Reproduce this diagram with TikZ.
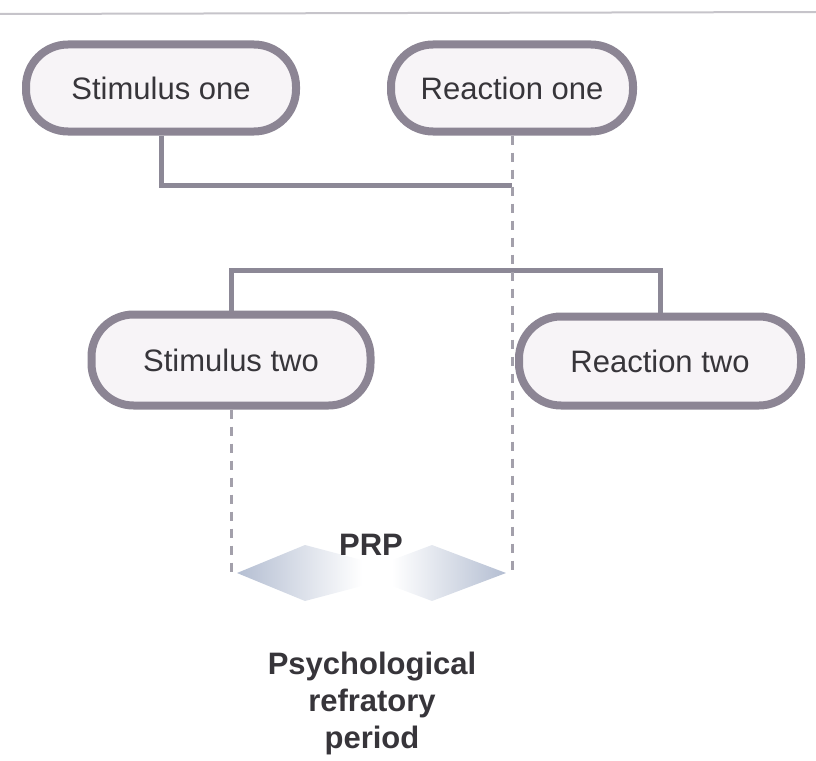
\documentclass[tikz,border=0pt]{standalone}
\usepackage{fontspec}
\setmainfont{Liberation Sans}
\usetikzlibrary{calc, positioning}

\definecolor{pillgray}{RGB}{140,133,148}
\definecolor{pillfill}{RGB}{247,244,247}
\definecolor{linegray}{RGB}{140,136,150}
\definecolor{textgray}{RGB}{55,53,58}
\definecolor{arrowblue}{RGB}{180,190,210}

\tikzset{
    pill/.style={draw=pillgray, line width=8pt, fill=pillfill, rounded corners=42pt,
        minimum width=270pt, minimum height=87pt, text=textgray,
        font=\fontsize{31}{36}\selectfont},
    link/.style={draw=linegray, line width=5pt},
    dashlink/.style={draw=linegray!80, line width=3pt, dash pattern=on 9pt off 8pt},
    label/.style={text=textgray, font=\bfseries\fontsize{31}{37}\selectfont}
}

\begin{document}
\begin{tikzpicture}[x=1pt, y=-1pt]
    \useasboundingbox (0,0) rectangle (816,760);
    \draw[linegray!50, line width=2pt] (0,14) -- (816,12);

    \node[pill] (s1) at (161,88) {Stimulus one};
    \node[pill, minimum width=242pt] (r1) at (512,88) {Reaction one};
    \node[pill, minimum width=279pt, minimum height=91pt] (s2) at (231,360) {Stimulus two};
    \node[pill, minimum width=282pt, minimum height=89pt] (r2) at (660,361) {Reaction two};

    \coordinate (lt) at (237,573);
    \coordinate (rt) at (506,573);

    % brackets
    \draw[link] (s1.south) |- ($(r1.south)+(0,50)$);
    \draw[link] (s2.north) -- ++(0,-40) -| (r2.north);

    % dashed guides
    \draw[dashlink] (r1.south) -- (r1.south |- rt);
    \draw[dashlink] (s2.south) -- (s2.south |- lt);

    % PRP arrows
    \shade[left color=arrowblue, right color=white] (lt) -- (305,545) -- (362,560) -- (362,586) -- (305,601) -- cycle;
    \shade[right color=arrowblue, left color=white] (rt) -- (432,545) -- (392,560) -- (392,586) -- (432,601) -- cycle;

    \node[label] (prp) at (371,545) {PRP};
    \node[label, align=center] (cap) at (372,703) {Psychological\\refratory\\period};
\end{tikzpicture}
\end{document}
